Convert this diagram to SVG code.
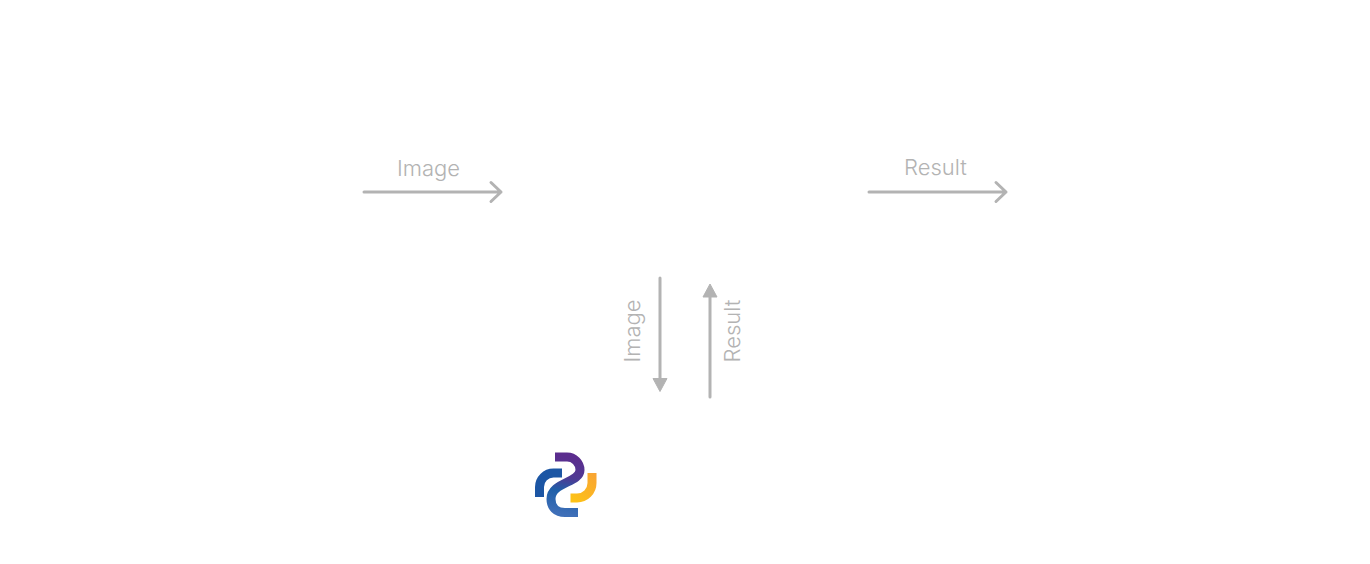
<svg xmlns="http://www.w3.org/2000/svg" width="1370" height="564" viewBox="0 0 1370 564">
<style>
.l{fill:none;stroke:#b3b3b3;stroke-width:3;stroke-linecap:round;stroke-linejoin:round}
.t{font-family:Inter,"Liberation Sans",sans-serif;font-size:22px;font-weight:300;fill:#b3b3b3;text-anchor:middle}
.a{fill:#b3b3b3;stroke:#b3b3b3;stroke-width:1;stroke-linejoin:round}
.g{fill:none;stroke-width:9}
</style>
<defs>
<linearGradient id="s" gradientUnits="userSpaceOnUse" x1="572" y1="458" x2="562" y2="514">
<stop offset="0" stop-color="#5b2d8e"/><stop offset="0.35" stop-color="#4f3a94"/><stop offset="0.6" stop-color="#1f5fa8"/><stop offset="1" stop-color="#3f6fb8"/>
</linearGradient>
<linearGradient id="y" gradientUnits="userSpaceOnUse" x1="571" y1="498" x2="593" y2="473">
<stop offset="0" stop-color="#fdc216"/><stop offset="1" stop-color="#f9a533"/>
</linearGradient>
</defs>
<rect width="1370" height="564" fill="#fff"/>
<g id="connectors">
<path class="l" d="M364 192H501M491 182.500L501 192L491 201.500"/>
<path class="l" d="M869 192H1006M996 182.500L1006 192L996 201.500"/>
<path class="l" d="M660 278V380"/>
<path class="a" d="M653 378.500H667L660 391.500Z"/>
<path class="l" d="M710 397V295"/>
<path class="a" d="M703 297H717L710 284Z"/>
</g>
<g id="label-image-top"><text class="t" x="428.500" y="176">Image</text></g>
<g id="label-result-top"><text class="t" x="935.500" y="175">Result</text></g>
<g id="label-image-side"><text class="t" transform="translate(640 331) rotate(-90)">Image</text></g>
<g id="label-result-side"><text class="t" transform="translate(740 331) rotate(-90)">Result</text></g>
<g id="logo">
<path class="g" stroke="#1c56a4" d="M539.500 497V487A14 14 0 0 1 553.500 473H562"/>
<path class="g" stroke="url(#s)" d="M555 457H567A13 13 0 0 1 580 470C580 483 551 482 551 499C551 507 556 512.500 565 512.500H578"/>
<path class="g" stroke="url(#y)" d="M570.500 498H577A15 15 0 0 0 592 483V473"/>
</g>
</svg>
